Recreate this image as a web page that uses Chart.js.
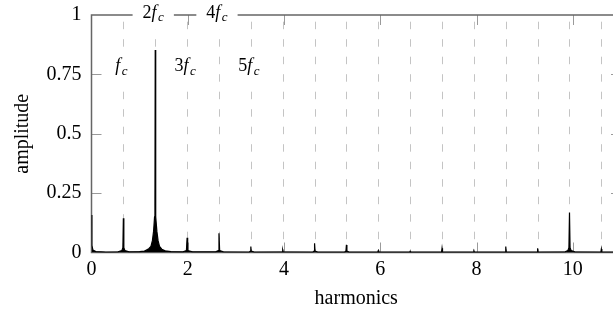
<!DOCTYPE html>
<html>
<head>
<meta charset="utf-8">
<script src="https://cdn.jsdelivr.net/npm/chart.js@4.4.0/dist/chart.umd.min.js"></script>
<style>
html, body { margin: 0; padding: 0; background: #fff; overflow: hidden; }
</style>
</head>
<body>
<canvas id="myChart" width="622" height="318"></canvas>
<script>
// spectrum (x in harmonics, y in amplitude)
var harmonics = [
    0, 0.008, 0.03, 0.09, 0.3, 0.55, 0.63, 0.652, 0.662, 0.672, 0.695, 0.78,
    1.0, 1.1, 1.14, 1.19, 1.235, 1.265, 1.29, 1.31, 1.318, 1.324, 1.33, 1.338,
    1.358, 1.383, 1.413, 1.46, 1.53, 1.65, 1.9, 1.972, 1.986, 1.998, 2.1,
    2.58, 2.634, 2.648, 2.662, 2.74, 3.28, 3.302, 3.31, 3.318, 3.38,
    3.962, 3.972, 3.982, 4.6, 4.624, 4.634, 4.644, 4.7,
    5.26, 5.286, 5.296, 5.306, 5.35, 5.948, 5.958, 5.968,
    6.612, 6.62, 6.628, 7.272, 7.282, 7.292, 7.934, 7.944, 7.954,
    8.596, 8.606, 8.616, 9.258, 9.268, 9.278,
    9.84, 9.895, 9.918, 9.93, 9.942, 9.965, 10.04,
    10.582, 10.592, 10.602, 11
];
var amplitude = [
    0.158, 0.03, 0.01, 0.004, 0.002, 0.003, 0.008, 0.02, 0.144, 0.02, 0.008, 0.003,
    0.004, 0.006, 0.01, 0.016, 0.026, 0.05, 0.09, 0.15, 0.2, 0.853, 0.2, 0.15,
    0.09, 0.05, 0.026, 0.014, 0.007, 0.004, 0.003, 0.008, 0.062, 0.008, 0.003,
    0.003, 0.008, 0.081, 0.008, 0.003, 0.002, 0.006, 0.025, 0.006, 0.002,
    0.003, 0.011, 0.003, 0.002, 0.006, 0.039, 0.006, 0.002,
    0.002, 0.006, 0.032, 0.006, 0.002, 0.002, 0.008, 0.002,
    0.002, 0.005, 0.002, 0.002, 0.018, 0.002, 0.002, 0.006, 0.002,
    0.002, 0.025, 0.002, 0.002, 0.018, 0.002,
    0.003, 0.008, 0.02, 0.168, 0.02, 0.008, 0.003,
    0.002, 0.015, 0.002, 0.002
];

// multiples of the carrier frequency (dashed lines)
var carrierLines = [0.662, 1.324, 1.986, 2.648, 3.31, 3.972, 4.634, 5.296,
    5.958, 6.62, 7.282, 7.944, 8.606, 9.268, 9.93, 10.592];
var labelPrefix = ['', '2', '3', '4', '5'];
var labelOnTop = [false, true, false, true, false];
var yTickLabels = ['0', '0.25', '0.5', '0.75', '1'];

var serif = '"Liberation Serif", "Times New Roman", serif';

function drawLabel(c, prefix, cx, baseline, onTop) {
    c.font = '18px ' + serif;
    var w1 = c.measureText(prefix).width;
    c.font = 'italic 18px ' + serif;
    var w2 = c.measureText('f').width + 1.5;
    c.font = 'italic 13px ' + serif;
    var w3 = c.measureText('c').width;
    var w = w1 + w2 + w3;
    var x = cx - w / 2;
    c.fillStyle = '#fff';
    if (onTop) {
        c.fillRect(x - 10, 0, w + 20, baseline + 12);
    } else {
        c.fillRect(x - 8, baseline - 24, w + 16, 37);
    }
    c.fillStyle = '#000';
    c.textBaseline = 'alphabetic';
    c.textAlign = 'left';
    c.font = '18px ' + serif;
    c.fillText(prefix, x, baseline);
    c.font = 'italic 18px ' + serif;
    c.fillText('f', x + w1, baseline);
    c.font = 'italic 13px ' + serif;
    c.fillText('c', x + w1 + w2, baseline + 3.5);
}

var framePlugin = {
    id: 'frame',
    beforeDatasetsDraw: function (chart) {
        var c = chart.ctx, a = chart.chartArea;
        var xs = chart.scales.x, ys = chart.scales.y;
        c.save();
        c.strokeStyle = '#c4c4c4';
        c.lineWidth = 1;
        c.setLineDash([7.5, 10]);
        c.lineDashOffset = 10.8;
        carrierLines.forEach(function (h) {
            var px = Math.round(xs.getPixelForValue(h)) + 0.5;
            c.beginPath();
            c.moveTo(px, a.top);
            c.lineTo(px, a.bottom);
            c.stroke();
        });
        c.setLineDash([]);
        c.strokeStyle = '#9a9a9a';
        ys.ticks.forEach(function (t) {
            if (t.value <= 0 || t.value >= 1) return;
            var py = Math.round(ys.getPixelForValue(t.value)) + 0.5;
            c.beginPath();
            c.moveTo(a.left, py); c.lineTo(a.left + 10, py);
            c.moveTo(a.right, py); c.lineTo(a.right - 10, py);
            c.stroke();
        });
        xs.ticks.forEach(function (t) {
            if (t.value <= 0) return;
            var px = Math.round(xs.getPixelForValue(t.value)) + 0.5;
            c.beginPath();
            c.moveTo(px, a.bottom); c.lineTo(px, a.bottom - 10);
            c.moveTo(px, a.top); c.lineTo(px, a.top + 10);
            c.stroke();
        });
        c.strokeStyle = '#666';
        c.lineWidth = 1.5;
        c.strokeRect(a.left, a.top, a.right - a.left, a.bottom - a.top);
        c.restore();
    },
    afterDatasetsDraw: function (chart) {
        var c = chart.ctx, a = chart.chartArea, xs = chart.scales.x;
        c.save();
        for (var i = 0; i < labelPrefix.length; i++) {
            var cx = xs.getPixelForValue(carrierLines[i]) - 2;
            var base = labelOnTop[i] ? a.top + 2.5 : a.top + 56;
            drawLabel(c, labelPrefix[i], cx, base, labelOnTop[i]);
        }
        c.restore();
    }
};

var points = harmonics.map(function (x, i) { return {x: x, y: amplitude[i]}; });
var ctx = document.getElementById('myChart');

var myChart = new Chart(ctx, {
    type: 'scatter',
    data: {
        datasets: [{
            data: points,
            showLine: true,
            borderColor: '#000',
            backgroundColor: '#000',
            fill: 'origin',
            borderWidth: 1.2,
            pointRadius: 0,
            tension: 0
        }]
    },
    options: {
        responsive: false,
        animation: false,
        layout: {padding: {top: 15, right: 1, bottom: 0, left: 0}},
        plugins: {legend: {display: false}, tooltip: {enabled: false}, filler: {propagate: false}},
        scales: {
            x: {
                type: 'linear', min: 0, max: 11,
                grid: {display: false, drawTicks: false},
                border: {display: false},
                ticks: {
                    stepSize: 2, includeBounds: false, maxRotation: 0,
                    padding: 5, color: '#000',
                    font: {family: serif, size: 20}
                },
                title: {
                    display: true, text: 'harmonics', color: '#000',
                    font: {family: serif, size: 20},
                    padding: {top: 0, bottom: 7}
                },
                afterFit: function (scale) {
                    scale.height = 65.5;
                    scale.paddingLeft = 0;
                    scale.paddingRight = 0;
                }
            },
            y: {
                min: 0, max: 1,
                grid: {display: false, drawTicks: false},
                border: {display: false},
                ticks: {
                    stepSize: 0.25, padding: 10, color: '#000',
                    font: {family: serif, size: 20},
                    callback: function (value, index) { return yTickLabels[index]; }
                },
                title: {
                    display: true, text: 'amplitude', color: '#000',
                    font: {family: serif, size: 20},
                    padding: {top: 11, bottom: 0}
                },
                afterFit: function (scale) {
                    scale.width = 91.5;
                    scale.paddingTop = 0;
                    scale.paddingBottom = 0;
                }
            }
        }
    },
    plugins: [framePlugin]
});
</script>
</body>
</html>
